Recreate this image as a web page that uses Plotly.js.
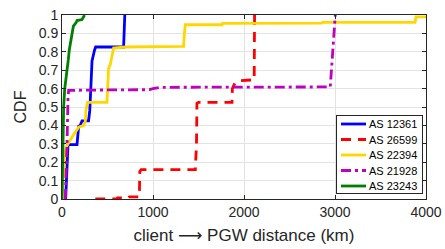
<!DOCTYPE html>
<html><head><meta charset="utf-8">
<script src="https://cdn.plot.ly/plotly-3.0.1.min.js"></script>
<style>html,body{margin:0;padding:0;background:#fff;}#chart{width:445px;height:249px;}</style>
</head><body><div id="chart"></div>
<script>
// Series names (legend order)
const seriesNames = ['AS 12361', 'AS 26599', 'AS 22394', 'AS 21928', 'AS 23243'];

// AS 12361 (blue)
const as12361_x = [40, 55, 66, 165, 172, 183, 200, 220, 292, 305, 312, 322, 330, 358, 370, 677, 686, 690];
const as12361_y = [0, 0.15, 0.295, 0.295, 0.36, 0.395, 0.40, 0.425, 0.425, 0.48, 0.55, 0.74, 0.75, 0.81, 0.826, 0.826, 0.99, 1];

// AS 26599 (red, dashed)
const as26599_x = [366, 600, 610, 730, 740, 850, 855, 870, 1465, 1478, 1483, 1500, 1868, 1872, 1900, 1960, 2112, 2116];
const as26599_y = [0, 0, 0.006, 0.006, 0.012, 0.012, 0.15, 0.16, 0.16, 0.30, 0.52, 0.525, 0.525, 0.60, 0.63, 0.643, 0.648, 1];

// AS 22394 (yellow)
const as22394_x = [0, 10, 30, 48, 66, 128, 183, 240, 256, 264, 280, 494, 500, 512, 530, 555, 567, 700, 1336, 1345, 1355, 1758, 1765, 2857, 2865, 3880, 3890, 4100];
const as22394_y = [0, 0.10, 0.25, 0.28, 0.30, 0.35, 0.39, 0.40, 0.42, 0.485, 0.525, 0.525, 0.60, 0.71, 0.73, 0.80, 0.82, 0.826, 0.83, 0.90, 0.947, 0.947, 0.955, 0.956, 0.96, 0.96, 0.99, 0.99];

// AS 21928 (magenta, dash-dot)
const as21928_x = [36, 45, 55, 66, 73, 300, 600, 960, 1000, 1040, 1080, 2948, 2978, 3003];
const as21928_y = [0, 0.25, 0.30, 0.55, 0.59, 0.592, 0.594, 0.594, 0.60, 0.603, 0.607, 0.609, 0.85, 1];

// AS 23243 (green)
const as23243_x = [0, 4, 10, 18, 30, 44, 55, 70, 80, 95, 110, 125, 157, 165, 220, 240, 248];
const as23243_y = [0, 0.20, 0.40, 0.50, 0.60, 0.65, 0.70, 0.76, 0.81, 0.85, 0.90, 0.94, 0.96, 0.97, 0.975, 0.99, 1];

const xTicks = [0, 1000, 2000, 3000, 4000];
const yTicks = [0, 0.1, 0.2, 0.3, 0.4, 0.5, 0.6, 0.7, 0.8, 0.9, 1];
const yTickText = ['0', '0.1', '0.2', '0.3', '0.4', '0.5', '0.6', '0.7', '0.8', '0.9', '1'];

const xs = [as12361_x, as26599_x, as22394_x, as21928_x, as23243_x];
const ys = [as12361_y, as26599_y, as22394_y, as21928_y, as23243_y];
const colors = ['#0000ff', '#ff0000', '#ffd700', '#bf00bf', '#008000'];
const dashes = ['solid', '10px,7px', 'solid', '10px,4px,3px,4px', 'solid'];

const traces = seriesNames.map((n, i) => ({
  type: 'scatter', mode: 'lines', name: n,
  x: xs[i], y: ys[i],
  line: {color: colors[i], width: 2.8, dash: dashes[i]}
}));

const axCol = '#262626';
const layout = {
  width: 445, height: 249,
  margin: {l: 62, r: 19, t: 15, b: 50},
  paper_bgcolor: '#fff', plot_bgcolor: '#fff',
  font: {family: '"Liberation Sans", Arial, sans-serif', color: axCol},
  showlegend: true,
  legend: {
    x: 0.993, xanchor: 'right', y: 0.01, yanchor: 'bottom',
    bgcolor: '#fff', bordercolor: axCol, borderwidth: 1,
    font: {size: 11, color: '#000'}
  },
  xaxis: {
    range: [0, 4000], tickvals: xTicks, ticks: 'inside', ticklen: 4, tickcolor: axCol,
    showline: true, linecolor: axCol, linewidth: 1, mirror: 'ticks',
    showgrid: true, gridcolor: '#e3e3e3', gridwidth: 1, zeroline: false,
    tickfont: {size: 14, color: axCol},
    title: {text: 'client <span style="font-family:\'DejaVu Sans\'">\u27F6</span> PGW distance (km)', font: {size: 17, color: axCol}, standoff: 10}
  },
  yaxis: {
    range: [0, 1], tickvals: yTicks, ticktext: yTickText, ticks: 'inside', ticklen: 4, tickcolor: axCol,
    showline: true, linecolor: axCol, linewidth: 1, mirror: 'ticks',
    showgrid: true, gridcolor: '#e3e3e3', gridwidth: 1, zeroline: false,
    tickfont: {size: 14, color: axCol},
    title: {text: 'CDF', font: {size: 16, color: axCol}, standoff: 8}
  }
};

Plotly.newPlot('chart', traces, layout, {staticPlot: true, displayModeBar: false}).then(function (gd) {
  // Compact the legend to match the reference's tight MATLAB-style box
  const leg = gd.querySelector('g.legend');
  if (!leg) return;
  const W = 87, H = 79, step = 15.5, first = 9;
  const items = Array.from(leg.querySelectorAll('g.traces'));
  items.forEach(function (g, i) {
    g.setAttribute('transform', 'translate(1,' + (first + i * step) + ')');
    g.querySelectorAll('.legendlines path').forEach(function (p) { p.setAttribute('d', 'M4,0h25'); });
    const t = g.querySelector('text.legendtext');
    if (t) t.setAttribute('x', 32);
  });
  const bg = leg.querySelector('rect.bg');
  if (bg) {
    bg.setAttribute('x', 0.5); bg.setAttribute('y', 0.5);
    bg.setAttribute('width', W - 1); bg.setAttribute('height', H - 1);
  }
  leg.setAttribute('transform', 'translate(336,115)');
});
</script></body></html>
